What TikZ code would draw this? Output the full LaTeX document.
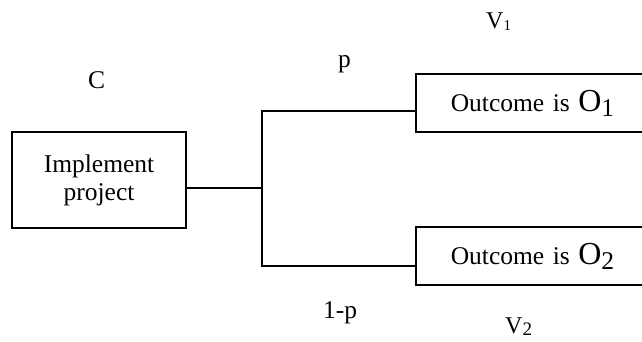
\documentclass[tikz,border=0pt]{standalone}
\usepackage{fontspec}
\setmainfont{Liberation Serif}
\usetikzlibrary{positioning,calc}
\def\outcome(#1){Outcome is {\fontsize{32}{32}\selectfont O}\raisebox{-5pt}{#1}}
\def\valuelbl(#1,#2){V\raisebox{-2pt}{\fontsize{#2}{#2}\selectfont #1}}

\begin{document}
\begin{tikzpicture}[x=1pt,y=-1pt,
  font=\fontsize{25.5}{28}\selectfont,
  box/.style={draw, line width=1.6pt, inner sep=0pt},
  outbox/.style={box, anchor=west, minimum height=58pt, text width=200pt, align=left, inner xsep=35pt},
  branch/.style={line width=1.3pt},
  lbl/.style={anchor=base west, inner sep=0pt}]
\useasboundingbox (0,0) rectangle (642,342);
\clip (0,0) rectangle (642,342);
\node[box, minimum width=174pt, minimum height=96pt, align=center] (impl) at (99,180) {Implement\\project};
\node[outbox] (o1) at (415,103) {\outcome(1)};
\node[outbox] (o2) at (415,256) {\outcome(2)};
\coordinate (fork) at (262,188);
\coordinate (up) at (262,111);
\coordinate (down) at (262,266);
\draw[branch] (fork -| impl.east) -- (fork);
\draw[branch] (up -| o1.west) -- (up) -- (down) -- (down -| o2.west);
\node[lbl] (cost) at (88,89) {C};
\node[lbl] (prob) at (338,68) {p};
\node[lbl] (probc) at (323,318) {1-p};
\node[lbl, font=\fontsize{24}{24}\selectfont] (val1) at (486,29) {\valuelbl(1,15)};
\node[lbl, font=\fontsize{24}{24}\selectfont] (val2) at (505,333) {\valuelbl(2,19)};
\end{tikzpicture}
\end{document}
